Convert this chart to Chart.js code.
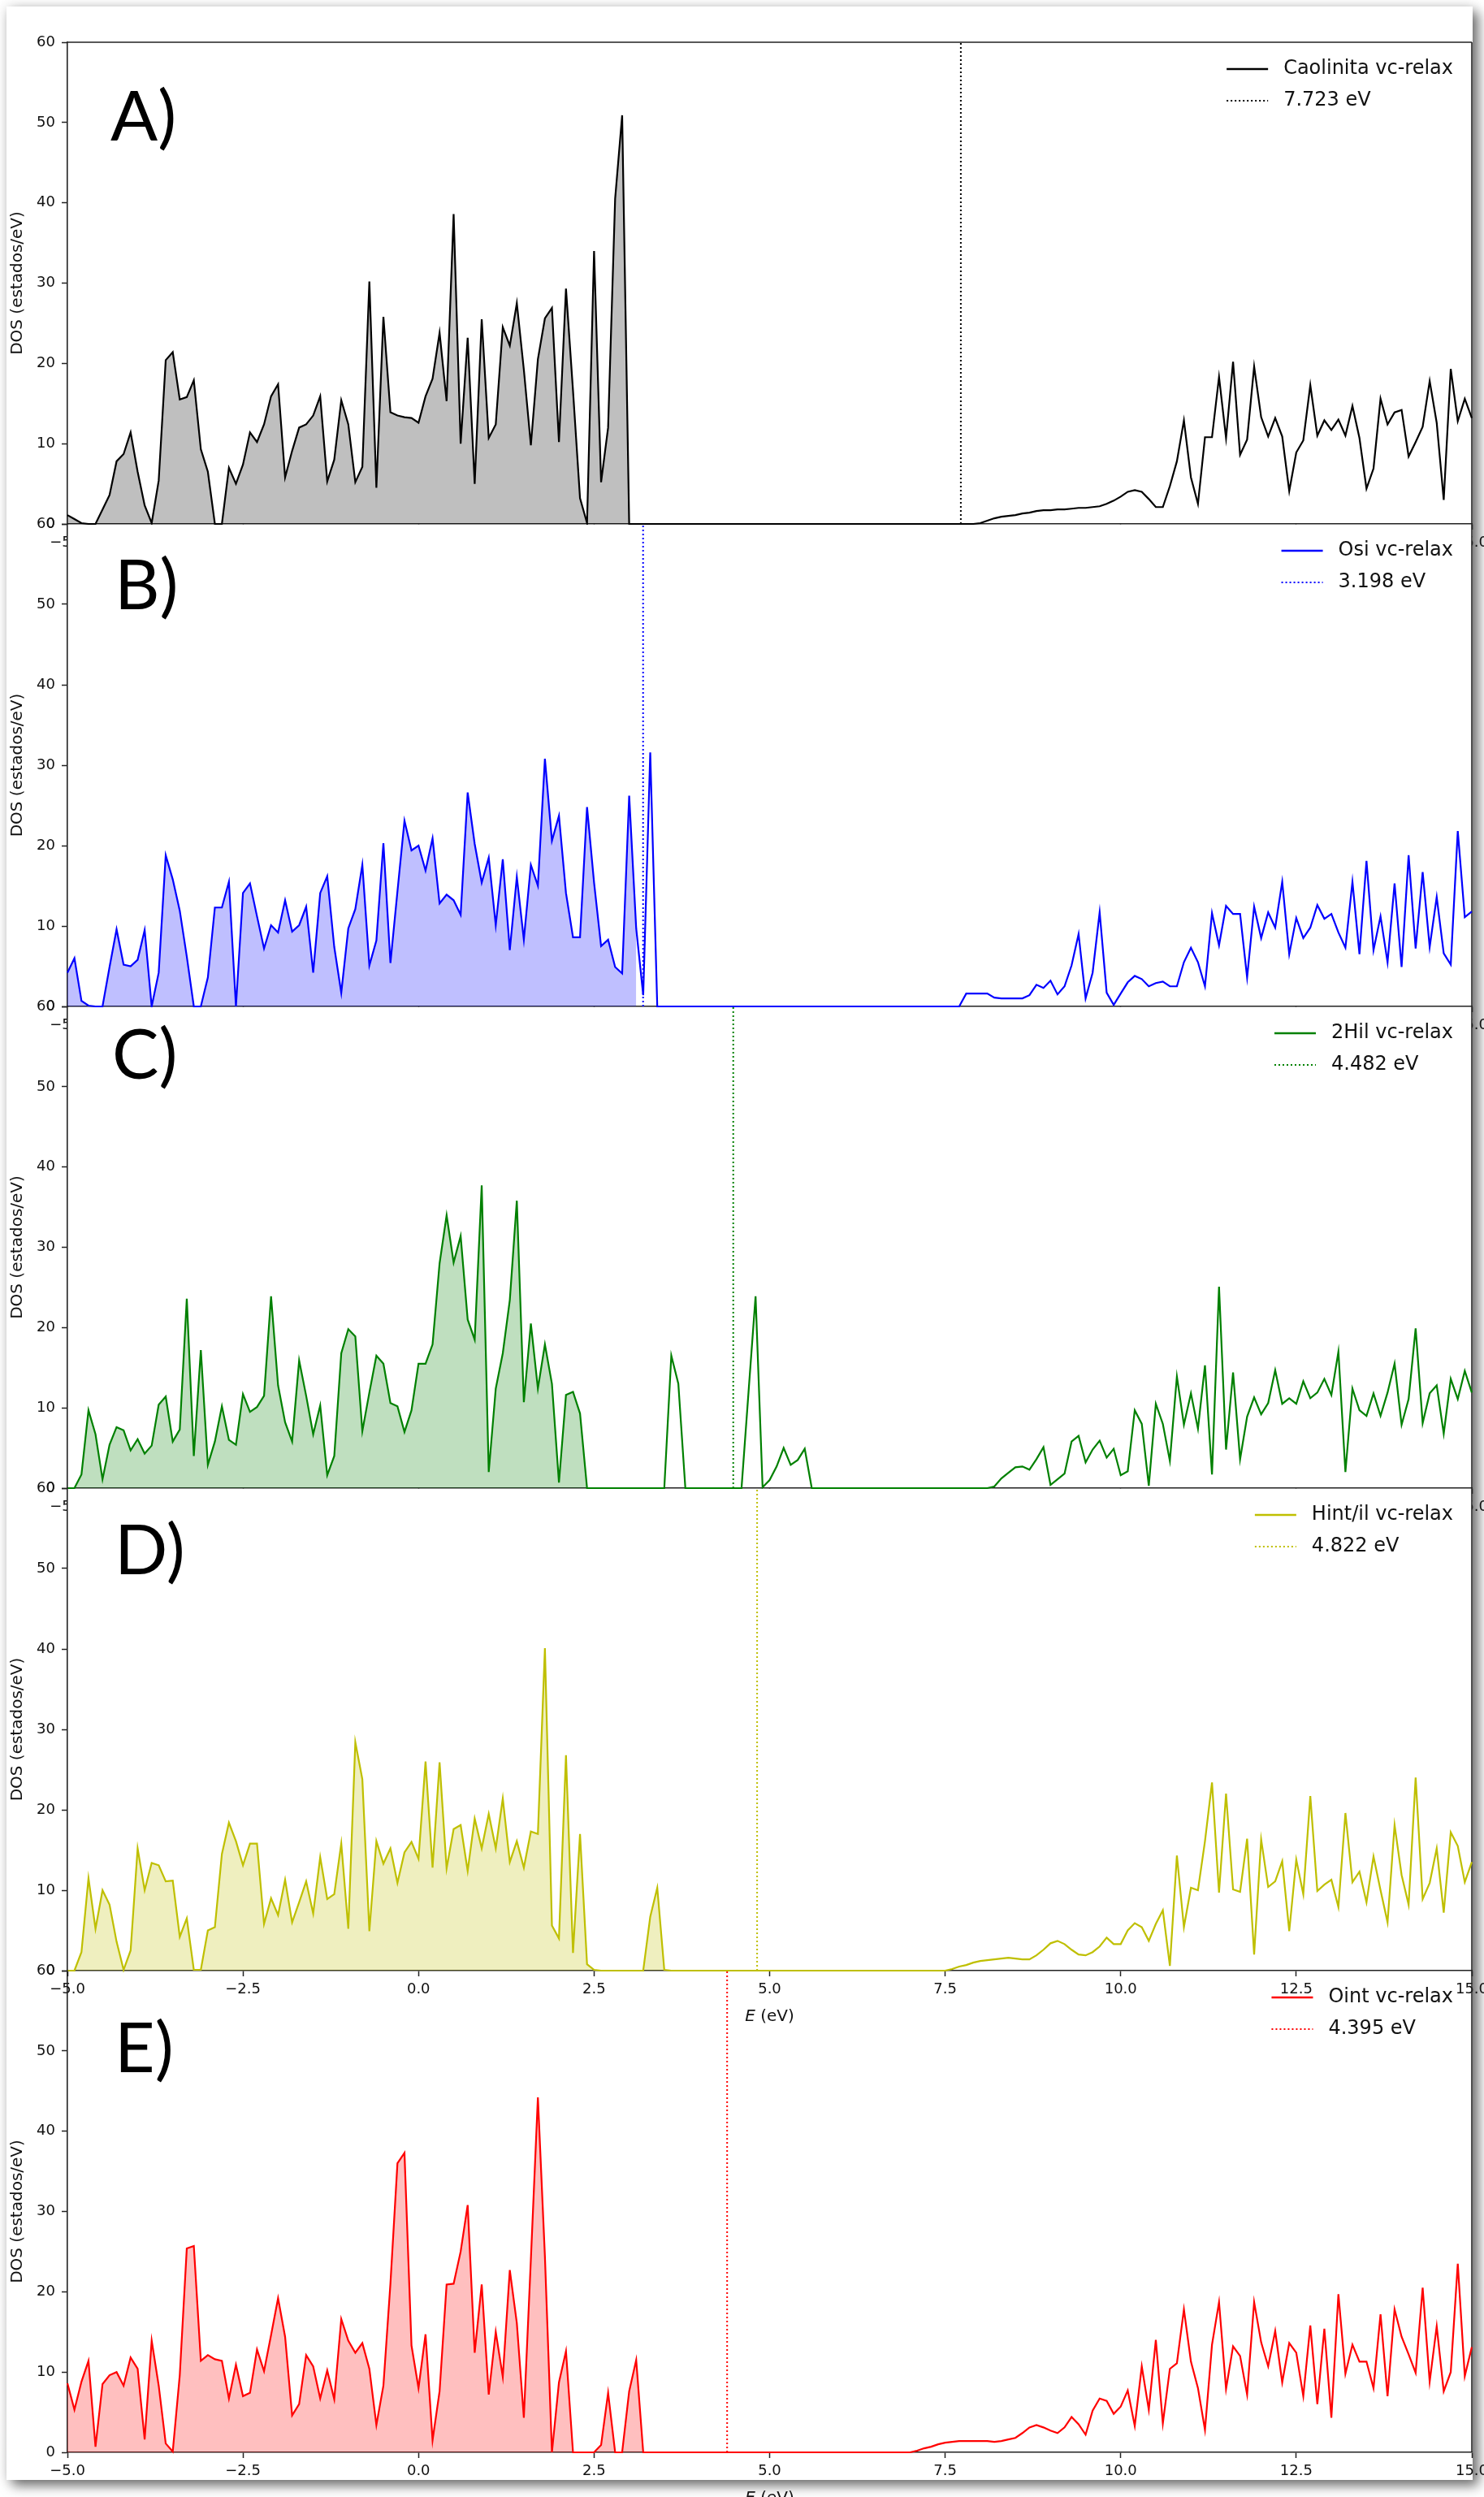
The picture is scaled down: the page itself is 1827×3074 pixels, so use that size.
<!DOCTYPE html>
<html>
<head>
<meta charset="utf-8">
<title>DOS vc-relax</title>
<script src="https://cdn.jsdelivr.net/npm/chart.js@4.4.1/dist/chart.umd.min.js"></script>
<style>
  html, body { margin: 0; padding: 0; background: #fff; overflow: hidden; }
  body { width: 1827px; height: 3074px; position: relative; }
  #sheet {
    position: absolute; left: 8px; top: 8px; width: 1805px; height: 3045px; background: #fff;
    box-shadow: 7px 7px 14px rgba(0, 0, 0, 0.55), 0 0 14px rgba(0, 0, 0, 0.12);
  }
  canvas.panel { position: absolute; left: 0; }
</style>
</head>
<body>
<div id="sheet"></div>
<canvas id="panel-0" class="panel"></canvas>
<canvas id="panel-1" class="panel"></canvas>
<canvas id="panel-2" class="panel"></canvas>
<canvas id="panel-3" class="panel"></canvas>
<canvas id="panel-4" class="panel"></canvas>
<script>
// ============ Data (0.1 eV grid) ============
const energy = [
  -5.0, -4.9, -4.8, -4.7, -4.6, -4.5, -4.4, -4.3, -4.2, -4.1,
  -4.0, -3.9, -3.8, -3.7, -3.6, -3.5, -3.4, -3.3, -3.2, -3.1,
  -3.0, -2.9, -2.8, -2.7, -2.6, -2.5, -2.4, -2.3, -2.2, -2.1,
  -2.0, -1.9, -1.8, -1.7, -1.6, -1.5, -1.4, -1.3, -1.2, -1.1,
  -1.0, -0.9, -0.8, -0.7, -0.6, -0.5, -0.4, -0.3, -0.2, -0.1,
  0.0, 0.1, 0.2, 0.3, 0.4, 0.5, 0.6, 0.7, 0.8, 0.9,
  1.0, 1.1, 1.2, 1.3, 1.4, 1.5, 1.6, 1.7, 1.8, 1.9,
  2.0, 2.1, 2.2, 2.3, 2.4, 2.5, 2.6, 2.7, 2.8, 2.9,
  3.0, 3.1, 3.2, 3.3, 3.4, 3.5, 3.6, 3.7, 3.8, 3.9,
  4.0, 4.1, 4.2, 4.3, 4.4, 4.5, 4.6, 4.7, 4.8, 4.9,
  5.0, 5.1, 5.2, 5.3, 5.4, 5.5, 5.6, 5.7, 5.8, 5.9,
  6.0, 6.1, 6.2, 6.3, 6.4, 6.5, 6.6, 6.7, 6.8, 6.9,
  7.0, 7.1, 7.2, 7.3, 7.4, 7.5, 7.6, 7.7, 7.8, 7.9,
  8.0, 8.1, 8.2, 8.3, 8.4, 8.5, 8.6, 8.7, 8.8, 8.9,
  9.0, 9.1, 9.2, 9.3, 9.4, 9.5, 9.6, 9.7, 9.8, 9.9,
  10.0, 10.1, 10.2, 10.3, 10.4, 10.5, 10.6, 10.7, 10.8, 10.9,
  11.0, 11.1, 11.2, 11.3, 11.4, 11.5, 11.6, 11.7, 11.8, 11.9,
  12.0, 12.1, 12.2, 12.3, 12.4, 12.5, 12.6, 12.7, 12.8, 12.9,
  13.0, 13.1, 13.2, 13.3, 13.4, 13.5, 13.6, 13.7, 13.8, 13.9,
  14.0, 14.1, 14.2, 14.3, 14.4, 14.5, 14.6, 14.7, 14.8, 14.9,
  15.0
];

const dosCaolinita = [
  1.1, 0.6, 0.1, 0, 0, 1.8, 3.6, 7.8, 8.7, 11.4,
  6.5, 2.3, 0.1, 5.4, 20.4, 21.4, 15.5, 15.8, 17.9, 9.3,
  6.5, 0, 0, 7.0, 5.0, 7.4, 11.4, 10.2, 12.4, 15.9,
  17.4, 5.8, 9.1, 12.0, 12.4, 13.5, 15.9, 5.3, 8.0, 15.4,
  12.4, 5.2, 7.1, 30.2, 4.5, 25.8, 13.9, 13.5, 13.3, 13.2,
  12.6, 15.9, 18.1, 23.8, 15.3, 38.6, 10.0, 23.2, 5.0, 25.5,
  10.7, 12.4, 24.5, 22.2, 27.5, 19.2, 9.8, 20.5, 25.6, 26.9,
  10.2, 29.3, 16.6, 3.2, 0.1, 34.0, 5.2, 12.0, 40.5, 50.9,
  0, 0, 0, 0, 0, 0, 0, 0, 0, 0,
  0, 0, 0, 0, 0, 0, 0, 0, 0, 0,
  0, 0, 0, 0, 0, 0, 0, 0, 0, 0,
  0, 0, 0, 0, 0, 0, 0, 0, 0, 0,
  0, 0, 0, 0, 0, 0, 0, 0, 0, 0,
  0.1, 0.4, 0.7, 0.9, 1.0, 1.1, 1.3, 1.4, 1.6, 1.7,
  1.7, 1.8, 1.8, 1.9, 2.0, 2.0, 2.1, 2.2, 2.5, 2.9,
  3.4, 4.0, 4.2, 4.0, 3.1, 2.1, 2.1, 4.7, 7.8, 12.9,
  5.8, 2.5, 10.8, 10.8, 18.3, 10.7, 20.2, 8.6, 10.5, 19.6,
  13.3, 10.9, 13.2, 10.9, 4.1, 8.9, 10.4, 17.3, 11.0, 12.9,
  11.7, 13.0, 11.0, 14.7, 10.7, 4.4, 6.9, 15.6, 12.4, 13.9,
  14.2, 8.4, 10.2, 12.1, 17.8, 12.6, 3.0, 19.3, 12.8, 15.6,
  13.2
];

const dosOsi = [
  4.2, 6.0, 0.7, 0.1, 0, 0, 4.9, 9.6, 5.2, 5.0,
  5.8, 9.5, 0, 4.2, 18.8, 15.8, 11.9, 6.2, 0, 0,
  3.6, 12.3, 12.3, 15.5, 0, 14.1, 15.3, 11.2, 7.2, 10.1,
  9.2, 13.2, 9.3, 10.1, 12.4, 4.2, 14.1, 16.2, 7.4, 1.7,
  9.7, 12.1, 17.6, 5.1, 8.2, 20.3, 5.4, 14.3, 23.1, 19.4,
  20.0, 16.9, 20.9, 12.8, 13.9, 13.2, 11.4, 26.6, 20.2, 15.4,
  18.5, 10.1, 18.3, 7.0, 16.1, 8.3, 17.6, 15.0, 30.8, 20.6,
  23.7, 14.1, 8.6, 8.6, 24.8, 15.4, 7.5, 8.3, 4.9, 4.1,
  26.2, 9.7, 1.4, 31.6, 0, 0, 0, 0, 0, 0,
  0, 0, 0, 0, 0, 0, 0, 0, 0, 0,
  0, 0, 0, 0, 0, 0, 0, 0, 0, 0,
  0, 0, 0, 0, 0, 0, 0, 0, 0, 0,
  0, 0, 0, 0, 0, 0, 0, 0, 1.6, 1.6,
  1.6, 1.6, 1.1, 1.0, 1.0, 1.0, 1.0, 1.4, 2.7, 2.3,
  3.2, 1.5, 2.5, 5.1, 9.0, 1.0, 4.2, 11.7, 1.7, 0.2,
  1.6, 3.0, 3.8, 3.4, 2.5, 2.9, 3.1, 2.5, 2.5, 5.5,
  7.3, 5.5, 2.5, 11.6, 7.6, 12.5, 11.5, 11.5, 3.6, 12.4,
  8.5, 11.7, 9.8, 15.5, 6.5, 11.0, 8.5, 9.8, 12.6, 10.9,
  11.5, 9.2, 7.3, 15.5, 6.5, 18.1, 7.0, 11.2, 5.5, 15.3,
  4.9, 18.8, 7.2, 16.7, 7.4, 13.6, 6.6, 5.2, 21.8, 11.1,
  11.8
];

const dos2Hil = [
  0, 0, 1.7, 9.7, 6.7, 1.1, 5.4, 7.6, 7.2, 4.7,
  6.1, 4.3, 5.3, 10.4, 11.4, 5.8, 7.3, 23.6, 4.0, 17.2,
  2.9, 5.8, 10.2, 6.0, 5.4, 11.7, 9.5, 10.1, 11.5, 23.9,
  12.8, 8.2, 5.8, 15.9, 11.5, 6.7, 10.3, 1.6, 4.0, 16.8,
  19.8, 18.9, 7.1, 11.9, 16.5, 15.5, 10.6, 10.2, 7.0, 9.7,
  15.5, 15.5, 17.9, 28.0, 34.0, 28.1, 31.4, 21.0, 18.5, 37.7,
  2.0, 12.4, 16.8, 23.4, 35.8, 10.7, 20.5, 12.4, 17.9, 13.0,
  0.7, 11.6, 12.0, 9.3, 0, 0, 0, 0, 0, 0,
  0, 0, 0, 0, 0, 0, 16.5, 13.0, 0, 0,
  0, 0, 0, 0, 0, 0, 0, 12.0, 23.9, 0.1,
  1.0, 2.7, 5.0, 2.9, 3.5, 4.9, 0, 0, 0, 0,
  0, 0, 0, 0, 0, 0, 0, 0, 0, 0,
  0, 0, 0, 0, 0, 0, 0, 0, 0, 0,
  0, 0, 0.2, 1.2, 1.9, 2.6, 2.7, 2.3, 3.6, 5.1,
  0.4, 1.1, 1.8, 5.8, 6.5, 3.2, 4.8, 5.9, 3.8, 4.9,
  1.6, 2.1, 9.7, 8.0, 0.3, 10.5, 8.0, 3.4, 13.9, 7.9,
  11.8, 7.4, 15.3, 1.7, 25.1, 4.8, 14.4, 3.6, 8.9, 11.3,
  9.2, 10.6, 14.7, 10.5, 11.2, 10.5, 13.3, 11.2, 11.9, 13.6,
  11.6, 17.0, 2.0, 12.4, 9.7, 9.0, 11.8, 9.0, 11.9, 15.5,
  7.9, 11.1, 19.9, 8.1, 11.8, 12.8, 6.8, 13.6, 11.1, 14.6,
  11.9
];

const dosHintIl = [
  0, 0, 2.3, 11.5, 5.2, 10.0, 8.2, 3.6, 0.1, 2.5,
  15.2, 10.0, 13.4, 13.1, 11.1, 11.2, 4.2, 6.5, 0.1, 0.1,
  5.0, 5.4, 14.5, 18.4, 16.1, 13.1, 15.8, 15.8, 5.8, 9.0,
  6.9, 11.3, 6.0, 8.5, 11.1, 7.1, 14.1, 8.9, 9.5, 15.8,
  5.2, 28.4, 23.8, 4.9, 16.1, 13.3, 15.2, 10.9, 14.7, 16.0,
  13.9, 26.0, 12.8, 25.9, 12.7, 17.6, 18.1, 12.4, 18.9, 15.2,
  19.5, 15.2, 21.4, 13.5, 16.1, 12.8, 17.3, 17.0, 40.1, 5.6,
  4.0, 26.8, 2.2, 17.0, 0.8, 0.1, 0, 0, 0, 0,
  0, 0, 0, 6.7, 10.3, 0.1, 0, 0, 0, 0,
  0, 0, 0, 0, 0, 0, 0, 0, 0, 0,
  0, 0, 0, 0, 0, 0, 0, 0, 0, 0,
  0, 0, 0, 0, 0, 0, 0, 0, 0, 0,
  0, 0, 0, 0, 0, 0, 0.2, 0.5, 0.7, 1.0,
  1.2, 1.3, 1.4, 1.5, 1.6, 1.5, 1.4, 1.4, 1.9, 2.6,
  3.4, 3.7, 3.3, 2.6, 2.0, 1.9, 2.3, 3.0, 4.1, 3.3,
  3.3, 5.0, 5.9, 5.4, 3.7, 5.8, 7.5, 0.6, 14.3, 5.4,
  10.3, 10.0, 16.1, 23.4, 9.7, 22.0, 10.1, 9.8, 16.4, 2.0,
  16.3, 10.4, 11.1, 13.6, 4.9, 13.8, 9.5, 21.7, 9.9, 10.7,
  11.3, 7.9, 19.6, 11.0, 12.3, 8.5, 14.2, 10.0, 6.0, 18.1,
  11.9, 8.2, 24.0, 8.9, 10.9, 15.2, 7.2, 17.2, 15.5, 11.0,
  13.5
];

const dosOint = [
  8.6, 5.3, 8.8, 11.4, 0.7, 8.5, 9.6, 10.0, 8.3, 11.8,
  10.4, 1.6, 13.9, 8.3, 1.1, 0.1, 9.6, 25.4, 25.7, 11.4,
  12.1, 11.6, 11.4, 6.7, 10.9, 7.0, 7.4, 12.8, 10.1, 14.6,
  19.2, 14.4, 4.6, 6.0, 12.1, 10.7, 6.7, 10.2, 6.6, 16.6,
  13.9, 12.4, 13.6, 10.4, 3.4, 8.3, 21.0, 36.0, 37.3, 13.3,
  8.0, 14.7, 1.5, 7.6, 20.9, 21.0, 25.0, 30.8, 12.4, 20.9,
  7.2, 15.0, 9.4, 22.7, 16.1, 4.3, 24.0, 44.2, 24.4, 0,
  8.7, 12.6, 0, 0, 0, 0, 0.9, 7.4, 0, 0,
  7.6, 11.5, 0, 0, 0, 0, 0, 0, 0, 0,
  0, 0, 0, 0, 0, 0, 0, 0, 0, 0,
  0, 0, 0, 0, 0, 0, 0, 0, 0, 0,
  0, 0, 0, 0, 0, 0, 0, 0, 0, 0,
  0, 0.2, 0.5, 0.7, 1.0, 1.2, 1.3, 1.4, 1.4, 1.4,
  1.4, 1.4, 1.3, 1.4, 1.6, 1.8, 2.4, 3.1, 3.4, 3.1,
  2.7, 2.4, 3.1, 4.4, 3.5, 2.2, 5.2, 6.7, 6.4, 4.8,
  5.7, 7.7, 3.3, 10.7, 5.3, 14.0, 3.6, 10.4, 11.1, 17.8,
  11.3, 8.0, 2.8, 13.4, 18.7, 7.9, 13.2, 12.0, 7.2, 18.7,
  13.7, 10.7, 15.1, 8.7, 13.6, 12.4, 7.0, 15.8, 6.0, 15.4,
  4.3, 19.7, 9.8, 13.4, 11.3, 11.3, 8.0, 17.2, 7.0, 17.8,
  14.4, 12.2, 9.9, 20.5, 8.8, 15.7, 7.6, 10.0, 23.5, 9.5,
  13.1
];

const seriesLabels = ['Caolinita vc-relax', 'Osi vc-relax', '2Hil vc-relax', 'Hint/il vc-relax', 'Oint vc-relax'];
const gapValues = [7.723, 3.198, 4.482, 4.822, 4.395];   // eV, dotted vertical lines
const fillUntil = [3.0, 3.1, 2.4, 3.5, 3.2];             // shaded (occupied) part ends here
const panelLetters = ['A)', 'B)', 'C)', 'D)', 'E)'];
const xTicks = [-5, -2.5, 0, 2.5, 5, 7.5, 10, 12.5, 15];
const yTicks = [0, 10, 20, 30, 40, 50, 60];

const dosSeries = [dosCaolinita, dosOsi, dos2Hil, dosHintIl, dosOint];
const lineColors = ['#000000', '#0000ff', '#008000', '#bfbf00', '#ff0000'];
const fillColors = ['rgba(0,0,0,0.25)', 'rgba(0,0,255,0.25)', 'rgba(0,128,0,0.25)', 'rgba(191,191,0,0.25)', 'rgba(255,0,0,0.25)'];

// ============ Layout ============
const PAGE_W = 1827;
const PLOT_LEFT = 83;
const PLOT_RIGHT = 1812;
const PAD_TOP = 52;
const PAD_BOTTOM = 70;
const panelTops = [52, 645, 1239, 1832, 2426];
const panelHeights = [593, 594, 593, 594, 593];
const letterPos = [
    { x: 136, y: 121 },
    { x: 141, y: 105 },
    { x: 138, y: 89 },
    { x: 141, y: 106 },
    { x: 141, y: 125 }
];

const FONT = '"DejaVu Sans", "Liberation Sans", sans-serif';
Chart.defaults.font.family = FONT;

const fmtX = v => {
    const s = Math.abs(v).toFixed(1);
    return v < 0 ? '\u2212' + s : s;
};

// frame, legend, panel letter and E (eV) title, drawn matplotlib-style
const panelDecor = {
    id: 'panelDecor',
    beforeDraw(chart, args, opts) {
        if (!opts.cover) return;
        const { ctx, chartArea: a } = chart;
        ctx.save();
        ctx.fillStyle = '#fff';
        ctx.fillRect(a.left, a.top + 1, a.right - a.left, a.bottom - a.top - 1);
        ctx.restore();
    },
    beforeDatasetsDraw(chart, args, opts) {
        const { ctx, chartArea: a } = chart;
        ctx.save();
        ctx.strokeStyle = '#222';
        ctx.lineWidth = 1.6;
        ctx.beginPath();
        if (opts.topEdge) {
            ctx.moveTo(a.left, a.top);
            ctx.lineTo(a.right, a.top);
        }
        ctx.moveTo(a.right, a.top);
        ctx.lineTo(a.right, a.bottom);
        ctx.stroke();
        ctx.restore();
    },
    afterDraw(chart, args, opts) {
        const { ctx, chartArea: a } = chart;
        ctx.save();

        // Legend (top right, no frame)
        ctx.font = '24px ' + FONT;
        const widths = opts.legend.map(it => ctx.measureText(it.text).width);
        const textX = a.right - 23 - Math.max(...widths);
        opts.legend.forEach((it, i) => {
            const y = a.top + 33 + i * 39;
            ctx.beginPath();
            ctx.setLineDash(it.dash);
            ctx.lineWidth = it.width;
            ctx.strokeStyle = it.color;
            ctx.moveTo(textX - 70, y);
            ctx.lineTo(textX - 19, y);
            ctx.stroke();
            ctx.setLineDash([]);
            ctx.fillStyle = '#111';
            ctx.textAlign = 'left';
            ctx.textBaseline = 'middle';
            ctx.fillText(it.text, textX, y);
        });

        // Panel letter
        ctx.font = '86px Lato, "Open Sans", sans-serif';
        ctx.fillStyle = '#000';
        ctx.textBaseline = 'alphabetic';
        ctx.fillText(opts.letter, opts.letterX, a.top + opts.letterY);

        // x title: italic E + (eV)
        const ty = a.bottom + 57;
        ctx.font = 'italic 20px ' + FONT;
        const wE = ctx.measureText('E').width;
        ctx.font = '20px ' + FONT;
        const wRest = ctx.measureText(' (eV)').width;
        const x0 = (a.left + a.right) / 2 - (wE + wRest) / 2;
        ctx.fillStyle = '#111';
        ctx.textBaseline = 'middle';
        ctx.font = 'italic 20px ' + FONT;
        ctx.fillText('E', x0, ty);
        ctx.font = '20px ' + FONT;
        ctx.fillText(' (eV)', x0 + wE, ty);
        ctx.restore();
    }
};

function axisCommon() {
    return {
        grid: { display: true, drawOnChartArea: false, drawTicks: true, tickLength: 7, tickWidth: 1.5, tickColor: '#222' },
        border: { display: true, color: '#222', width: 1.6 }
    };
}

function buildPanel(i) {
    const canvas = document.getElementById('panel-' + i);
    const h = PAD_TOP + panelHeights[i] + PAD_BOTTOM;
    canvas.width = PAGE_W;
    canvas.height = h;
    canvas.style.width = PAGE_W + 'px';
    canvas.style.height = h + 'px';
    canvas.style.top = (panelTops[i] - PAD_TOP) + 'px';

    const dos = dosSeries[i];
    const points = energy.map((e, k) => ({ x: e, y: dos[k] }));
    const shaded = points.filter(p => p.x <= fillUntil[i] + 1e-9);
    const color = lineColors[i];
    const gap = gapValues[i];

    return new Chart(canvas, {
        type: 'line',
        data: {
            datasets: [
                {
                    label: seriesLabels[i],
                    data: points,
                    borderColor: color,
                    borderWidth: 2.2,
                    pointRadius: 0,
                    tension: 0,
                    fill: false,
                    clip: false,
                    order: 0
                },
                {
                    label: gap.toFixed(3) + ' eV',
                    data: [{ x: gap, y: 0 }, { x: gap, y: 60 }],
                    borderColor: color,
                    borderWidth: 2,
                    borderDash: [2, 3],
                    pointRadius: 0,
                    fill: false,
                    clip: false,
                    order: 1
                },
                {
                    label: 'occupied',
                    data: shaded,
                    borderColor: 'rgba(0,0,0,0)',
                    borderWidth: 0,
                    backgroundColor: fillColors[i],
                    pointRadius: 0,
                    tension: 0,
                    fill: 'origin',
                    order: 2
                }
            ]
        },
        options: {
            responsive: false,
            animation: false,
            devicePixelRatio: 1,
            events: [],
            layout: { padding: { left: 0, right: PAGE_W - PLOT_RIGHT, top: PAD_TOP, bottom: 0 } },
            plugins: {
                legend: { display: false },
                tooltip: { enabled: false },
                panelDecor: {
                    cover: i > 0 && i < 4,
                    topEdge: i === 0,
                    letter: panelLetters[i],
                    letterX: letterPos[i].x,
                    letterY: letterPos[i].y,
                    legend: [
                        { text: seriesLabels[i], color: color, dash: [], width: 2.6 },
                        { text: gap.toFixed(3) + ' eV', color: color, dash: [2, 3], width: 2 }
                    ]
                }
            },
            scales: {
                x: {
                    type: 'linear',
                    min: -5,
                    max: 15,
                    afterBuildTicks: s => { s.ticks = xTicks.map(v => ({ value: v })); },
                    afterFit: s => { s.height = PAD_BOTTOM; s.paddingLeft = 0; s.paddingRight = 0; },
                    ticks: {
                        autoSkip: false, maxRotation: 0, minRotation: 0, padding: 6,
                        color: '#111', font: { size: 18 },
                        callback: v => fmtX(v)
                    },
                    ...axisCommon()
                },
                y: {
                    type: 'linear',
                    min: 0,
                    max: 60,
                    afterBuildTicks: s => { s.ticks = yTicks.map(v => ({ value: v })); },
                    afterFit: s => { s.width = PLOT_LEFT; s.paddingTop = 0; s.paddingBottom = 0; },
                    ticks: {
                        autoSkip: false, padding: 8, color: '#111', font: { size: 18 },
                        callback: v => String(v)
                    },
                    title: {
                        display: true, text: 'DOS (estados/eV)', color: '#111',
                        font: { size: 20 }, padding: { top: 10, bottom: 0 }
                    },
                    ...axisCommon()
                }
            }
        },
        plugins: [panelDecor]
    });
}

for (let i = 0; i < 5; i++) buildPanel(i);
</script>
</body>
</html>
